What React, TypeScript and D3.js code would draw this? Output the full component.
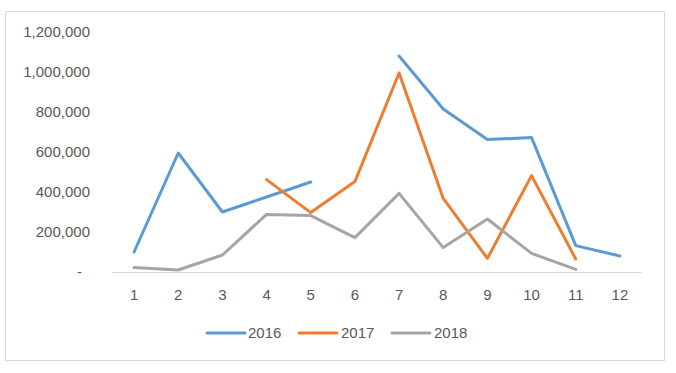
import React from 'react'
import * as d3 from 'd3'

const months = ['1', '2', '3', '4', '5', '6', '7', '8', '9', '10', '11', '12']
const sales2016 = [100000, 595000, 300000, 375000, 450000, null, 1080000, 815000, 662000, 672000, 132000, 80000]
const sales2017 = [null, null, null, 462000, 297000, 452000, 995000, 368000, 68000, 482000, 65000, null]
const sales2018 = [22000, 10000, 85000, 288000, 282000, 172000, 393000, 122000, 265000, 93000, 13000, null]
const yTicks = [0, 200000, 400000, 600000, 800000, 1000000, 1200000]

const series = [
  { name: '2016', values: sales2016, color: '#5B9BD5' },
  { name: '2017', values: sales2017, color: '#ED7D31' },
  { name: '2018', values: sales2018, color: '#A5A5A5' },
]

const font = "'Liberation Sans', Arial, sans-serif"
const textColor = '#595959'

export default function App() {
  const width = 676
  const height = 373
  const plot = { left: 112, right: 642, top: 32, bottom: 272 }

  const x = d3.scaleBand<string>()
    .domain(months)
    .range([plot.left, plot.right])
  const y = d3.scaleLinear()
    .domain([0, 1200000])
    .range([plot.bottom, plot.top])

  const fmt = d3.format(',')
  const line = d3.line<number | null>()
    .defined((d) => d != null)
    .x((d, i) => (x(months[i]) as number) + x.bandwidth() / 2)
    .y((d) => y(d as number))

  const legendItems = [
    { lineX: 207, textX: 248 },
    { lineX: 299, textX: 341 },
    { lineX: 392, textX: 434 },
  ]

  return (
    <div style={{ position: 'absolute', left: 0, top: 0 }}>
      <svg width={width} height={height} style={{ display: 'block', background: '#fff' }}>
        <rect x={5.5} y={11.5} width={659} height={349} fill="#fff" stroke="#D9D9D9" strokeWidth={1} />

        {yTicks.map((t) => (
          <text key={t} x={t === 0 ? 82 : 90} y={y(t)} dy="0.35em" textAnchor="end"
            fontFamily={font} fontSize={15} fill={textColor}>
            {t === 0 ? '-' : fmt(t)}
          </text>
        ))}

        <line x1={plot.left} x2={plot.right} y1={plot.bottom + 0.5} y2={plot.bottom + 0.5} stroke="#D9D9D9" strokeWidth={1} />

        {months.map((m) => (
          <text key={m} x={(x(m) as number) + x.bandwidth() / 2} y={295} dy="0.35em" textAnchor="middle"
            fontFamily={font} fontSize={15} fill={textColor}>
            {m}
          </text>
        ))}

        {series.map((s) => (
          <path key={s.name} d={line(s.values) || ''} fill="none" stroke={s.color}
            strokeWidth={3} strokeLinejoin="round" strokeLinecap="round" />
        ))}

        {series.map((s, i) => (
          <g key={s.name}>
            <line x1={legendItems[i].lineX} x2={legendItems[i].lineX + 38} y1={333} y2={333}
              stroke={s.color} strokeWidth={3} strokeLinecap="round" />
            <text x={legendItems[i].textX} y={333} dy="0.35em" fontFamily={font} fontSize={15} fill={textColor}>
              {s.name}
            </text>
          </g>
        ))}
      </svg>
    </div>
  )
}
